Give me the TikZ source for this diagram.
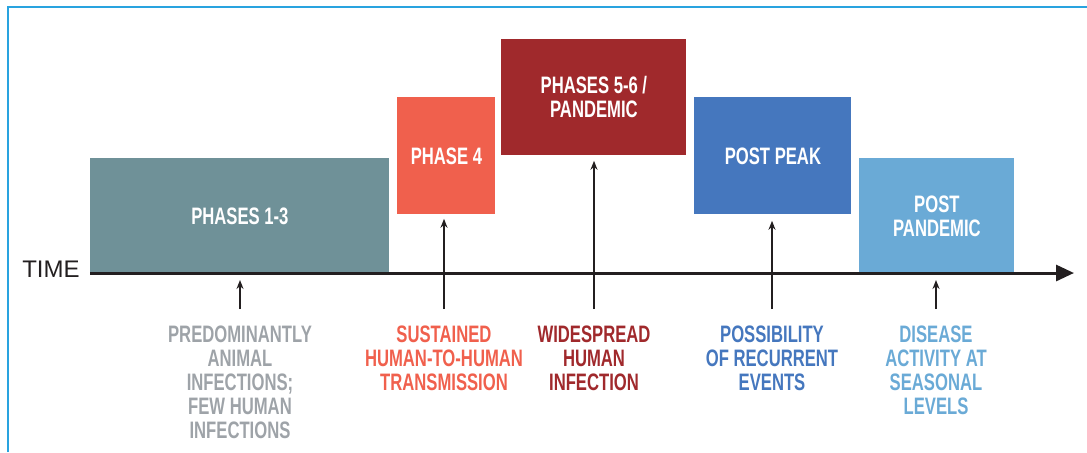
\documentclass[tikz,border=0pt]{standalone}
\usepackage{fontspec}
\setmainfont{Liberation Sans}
\newfontfamily\condfont{Liberation Sans}[FakeStretch=0.7]
\usetikzlibrary{arrows.meta}
\definecolor{cgray}{HTML}{6F9198}
\definecolor{corange}{HTML}{F0604D}
\definecolor{cred}{HTML}{A0292C}
\definecolor{cblue}{HTML}{4577BE}
\definecolor{clight}{HTML}{6AAAD6}
\definecolor{ctext}{HTML}{9EA3A8}
\definecolor{cframe}{HTML}{29A3DF}
\definecolor{cblack}{HTML}{231F20}
\tikzset{
  phasebox/.style={anchor=north west, inner sep=0pt, align=center, text=white,
    font=\condfont\bfseries\fontsize{11.9}{12}\selectfont},
  lab/.style={anchor=north, inner sep=0pt, align=center,
    font=\condfont\bfseries\fontsize{11.9}{12}\selectfont},
  up/.style={-{Stealth[length=4.5pt,width=3.5pt]}, line width=0.75pt, cblack},
}
\begin{document}
\begin{tikzpicture}[x=0.5pt,y=-0.5pt]
\useasboundingbox (0,0) rectangle (1087,452);
% frame
\draw[cframe, line width=1pt] (8,452) -- (8,7) -- (1087,7);
% boxes
\node (p13) [phasebox, fill=cgray, minimum width=149.5pt, minimum height=57.5pt] at (90,158) {PHASES 1-3};
\node (p4) [phasebox, fill=corange, minimum width=49pt, minimum height=58.5pt] at (397,97) {PHASE 4};
\node (p56) [phasebox, fill=cred, minimum width=92.5pt, minimum height=58pt] at (501,39) {PHASES 5-6 /\\PANDEMIC};
\node (pp) [phasebox, fill=cblue, minimum width=78.5pt, minimum height=58.5pt] at (694,97) {POST PEAK};
\node (ppd) [phasebox, fill=clight, minimum width=77.5pt, minimum height=57.5pt] at (859,158) {POST\\PANDEMIC};
% axis
\coordinate (ax0) at (90,273);
\coordinate (ax1) at (1074,273);
\draw[line width=1.5pt, cblack, -{Triangle[length=9pt,width=8pt]}] (ax0) -- (ax1);
\node (time) [anchor=base east, inner sep=0pt, text=cblack, font=\fontsize{12}{12}\selectfont] at (80,277) {TIME};
% labels
\node (l1) [lab, text=ctext] at (240,325) {PREDOMINANTLY\\ANIMAL\\INFECTIONS;\\FEW HUMAN\\INFECTIONS};
\node (l2) [lab, text=corange] at (444,325) {SUSTAINED\\HUMAN-TO-HUMAN\\TRANSMISSION};
\node (l3) [lab, text=cred] at (594,325) {WIDESPREAD\\HUMAN\\INFECTION};
\node (l4) [lab, text=cblue] at (772,325) {POSSIBILITY\\OF RECURRENT\\EVENTS};
\node (l5) [lab, text=clight] at (936,325) {DISEASE\\ACTIVITY AT\\SEASONAL\\LEVELS};
% arrow tails and short-arrow tips
\coordinate (t1) at (240,309);
\coordinate (t2) at (444,309);
\coordinate (t3) at (594,309);
\coordinate (t4) at (772,309);
\coordinate (t5) at (936,309);
\coordinate (e1) at (240,280);
\coordinate (e5) at (936,280);
\draw[up] (t1) -- (e1);
\draw[up, shorten >=2pt] (t2) -- (p4.south -| t2);
\draw[up, shorten >=2.5pt] (t3) -- (p56.south -| t3);
\draw[up, shorten >=3pt] (t4) -- (pp.south -| t4);
\draw[up] (t5) -- (e5);
\end{tikzpicture}
\end{document}
